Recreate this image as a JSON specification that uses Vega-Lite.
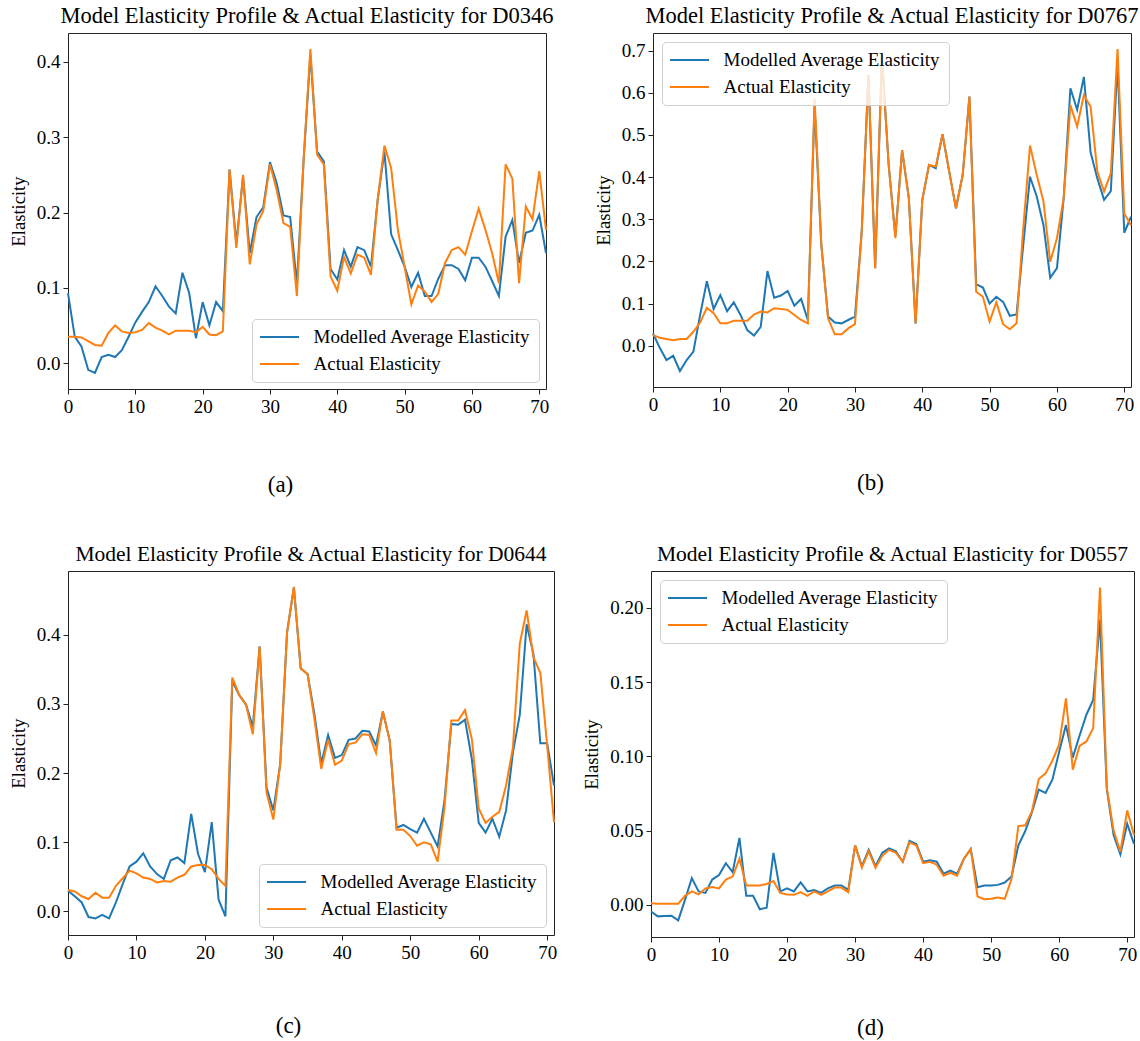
{
  "$schema": "https://vega.github.io/schema/vega-lite/v6.json",
  "padding": {"left": 8, "top": 4, "right": 4, "bottom": 4},
  "background": "white",
  "spacing": 46,
  "datasets": {
    "a": [
      {"t":0,"mod":0.093,"act":0.035},{"t":1,"mod":0.035,"act":0.035},{"t":2,"mod":0.022,"act":0.034},{"t":3,"mod":-0.009,"act":0.029},{"t":4,"mod":-0.013,"act":0.024},{"t":5,"mod":0.008,"act":0.023},{"t":6,"mod":0.011,"act":0.040},{"t":7,"mod":0.008,"act":0.050},{"t":8,"mod":0.017,"act":0.042},{"t":9,"mod":0.035,"act":0.040},
      {"t":10,"mod":0.054,"act":0.041},{"t":11,"mod":0.068,"act":0.044},{"t":12,"mod":0.081,"act":0.053},{"t":13,"mod":0.102,"act":0.047},{"t":14,"mod":0.089,"act":0.043},{"t":15,"mod":0.075,"act":0.038},{"t":16,"mod":0.066,"act":0.043},{"t":17,"mod":0.120,"act":0.043},{"t":18,"mod":0.093,"act":0.043},{"t":19,"mod":0.033,"act":0.041},
      {"t":20,"mod":0.081,"act":0.048},{"t":21,"mod":0.050,"act":0.038},{"t":22,"mod":0.081,"act":0.037},{"t":23,"mod":0.069,"act":0.042},{"t":24,"mod":0.257,"act":0.257},{"t":25,"mod":0.159,"act":0.153},{"t":26,"mod":0.248,"act":0.250},{"t":27,"mod":0.146,"act":0.131},{"t":28,"mod":0.194,"act":0.184},{"t":29,"mod":0.207,"act":0.202},
      {"t":30,"mod":0.267,"act":0.264},{"t":31,"mod":0.239,"act":0.230},{"t":32,"mod":0.196,"act":0.186},{"t":33,"mod":0.194,"act":0.181},{"t":34,"mod":0.105,"act":0.089},{"t":35,"mod":0.270,"act":0.270},{"t":36,"mod":0.410,"act":0.417},{"t":37,"mod":0.281,"act":0.277},{"t":38,"mod":0.268,"act":0.264},{"t":39,"mod":0.125,"act":0.115},
      {"t":40,"mod":0.111,"act":0.096},{"t":41,"mod":0.150,"act":0.141},{"t":42,"mod":0.128,"act":0.119},{"t":43,"mod":0.154,"act":0.144},{"t":44,"mod":0.150,"act":0.140},{"t":45,"mod":0.128,"act":0.117},{"t":46,"mod":0.217,"act":0.217},{"t":47,"mod":0.281,"act":0.289},{"t":48,"mod":0.171,"act":0.259},{"t":49,"mod":0.150,"act":0.177},
      {"t":50,"mod":0.128,"act":0.128},{"t":51,"mod":0.101,"act":0.078},{"t":52,"mod":0.120,"act":0.103},{"t":53,"mod":0.089,"act":0.095},{"t":54,"mod":0.089,"act":0.081},{"t":55,"mod":0.112,"act":0.092},{"t":56,"mod":0.130,"act":0.133},{"t":57,"mod":0.130,"act":0.150},{"t":58,"mod":0.125,"act":0.154},{"t":59,"mod":0.110,"act":0.144},
      {"t":60,"mod":0.140,"act":0.175},{"t":61,"mod":0.140,"act":0.205},{"t":62,"mod":0.128,"act":0.177},{"t":63,"mod":0.109,"act":0.146},{"t":64,"mod":0.089,"act":0.106},{"t":65,"mod":0.168,"act":0.264},{"t":66,"mod":0.190,"act":0.245},{"t":67,"mod":0.133,"act":0.106},{"t":68,"mod":0.173,"act":0.208},{"t":69,"mod":0.176,"act":0.191},
      {"t":70,"mod":0.197,"act":0.255},{"t":71,"mod":0.146,"act":0.177}
    ],
    "b": [
      {"t":0,"mod":0.029,"act":0.025},{"t":1,"mod":-0.005,"act":0.019},{"t":2,"mod":-0.034,"act":0.016},{"t":3,"mod":-0.024,"act":0.013},{"t":4,"mod":-0.060,"act":0.016},{"t":5,"mod":-0.034,"act":0.016},{"t":6,"mod":-0.014,"act":0.033},{"t":7,"mod":0.073,"act":0.055},{"t":8,"mod":0.153,"act":0.090},{"t":9,"mod":0.087,"act":0.077},
      {"t":10,"mod":0.120,"act":0.053},{"t":11,"mod":0.082,"act":0.053},{"t":12,"mod":0.103,"act":0.059},{"t":13,"mod":0.073,"act":0.059},{"t":14,"mod":0.037,"act":0.059},{"t":15,"mod":0.024,"act":0.074},{"t":16,"mod":0.045,"act":0.081},{"t":17,"mod":0.177,"act":0.079},{"t":18,"mod":0.114,"act":0.089},{"t":19,"mod":0.119,"act":0.087},
      {"t":20,"mod":0.130,"act":0.085},{"t":21,"mod":0.095,"act":0.073},{"t":22,"mod":0.111,"act":0.061},{"t":23,"mod":0.061,"act":0.053},{"t":24,"mod":0.570,"act":0.587},{"t":25,"mod":0.240,"act":0.240},{"t":26,"mod":0.069,"act":0.065},{"t":27,"mod":0.055,"act":0.027},{"t":28,"mod":0.053,"act":0.027},{"t":29,"mod":0.061,"act":0.041},
      {"t":30,"mod":0.069,"act":0.051},{"t":31,"mod":0.270,"act":0.270},{"t":32,"mod":0.642,"act":0.642},{"t":33,"mod":0.184,"act":0.184},{"t":34,"mod":0.685,"act":0.690},{"t":35,"mod":0.430,"act":0.430},{"t":36,"mod":0.260,"act":0.255},{"t":37,"mod":0.464,"act":0.464},{"t":38,"mod":0.350,"act":0.350},{"t":39,"mod":0.053,"act":0.053},
      {"t":40,"mod":0.346,"act":0.346},{"t":41,"mod":0.429,"act":0.429},{"t":42,"mod":0.421,"act":0.425},{"t":43,"mod":0.502,"act":0.502},{"t":44,"mod":0.413,"act":0.413},{"t":45,"mod":0.326,"act":0.326},{"t":46,"mod":0.405,"act":0.405},{"t":47,"mod":0.591,"act":0.591},{"t":48,"mod":0.146,"act":0.128},{"t":49,"mod":0.138,"act":0.116},
      {"t":50,"mod":0.100,"act":0.057},{"t":51,"mod":0.116,"act":0.103},{"t":52,"mod":0.104,"act":0.051},{"t":53,"mod":0.071,"act":0.039},{"t":54,"mod":0.074,"act":0.053},{"t":55,"mod":0.240,"act":0.280},{"t":56,"mod":0.401,"act":0.475},{"t":57,"mod":0.354,"act":0.405},{"t":58,"mod":0.286,"act":0.342},{"t":59,"mod":0.161,"act":0.199},
      {"t":60,"mod":0.184,"act":0.255},{"t":61,"mod":0.350,"act":0.350},{"t":62,"mod":0.611,"act":0.571},{"t":63,"mod":0.560,"act":0.520},{"t":64,"mod":0.638,"act":0.595},{"t":65,"mod":0.459,"act":0.567},{"t":66,"mod":0.397,"act":0.413},{"t":67,"mod":0.346,"act":0.366},{"t":68,"mod":0.367,"act":0.409},{"t":69,"mod":0.670,"act":0.704},
      {"t":70,"mod":0.268,"act":0.314},{"t":71,"mod":0.306,"act":0.286}
    ],
    "c": [
      {"t":0,"mod":0.030,"act":0.031},{"t":1,"mod":0.022,"act":0.029},{"t":2,"mod":0.013,"act":0.022},{"t":3,"mod":-0.008,"act":0.018},{"t":4,"mod":-0.010,"act":0.027},{"t":5,"mod":-0.005,"act":0.020},{"t":6,"mod":-0.010,"act":0.020},{"t":7,"mod":0.013,"act":0.037},{"t":8,"mod":0.040,"act":0.048},{"t":9,"mod":0.065,"act":0.059},
      {"t":10,"mod":0.072,"act":0.055},{"t":11,"mod":0.084,"act":0.049},{"t":12,"mod":0.065,"act":0.047},{"t":13,"mod":0.054,"act":0.042},{"t":14,"mod":0.047,"act":0.044},{"t":15,"mod":0.074,"act":0.043},{"t":16,"mod":0.078,"act":0.049},{"t":17,"mod":0.070,"act":0.053},{"t":18,"mod":0.141,"act":0.065},{"t":19,"mod":0.083,"act":0.067},
      {"t":20,"mod":0.057,"act":0.067},{"t":21,"mod":0.129,"act":0.061},{"t":22,"mod":0.017,"act":0.047},{"t":23,"mod":-0.007,"act":0.037},{"t":24,"mod":0.333,"act":0.338},{"t":25,"mod":0.313,"act":0.313},{"t":26,"mod":0.299,"act":0.299},{"t":27,"mod":0.267,"act":0.256},{"t":28,"mod":0.383,"act":0.383},{"t":29,"mod":0.179,"act":0.172},
      {"t":30,"mod":0.146,"act":0.133},{"t":31,"mod":0.213,"act":0.213},{"t":32,"mod":0.403,"act":0.403},{"t":33,"mod":0.468,"act":0.469},{"t":34,"mod":0.351,"act":0.351},{"t":35,"mod":0.343,"act":0.343},{"t":36,"mod":0.285,"act":0.278},{"t":37,"mod":0.214,"act":0.206},{"t":38,"mod":0.255,"act":0.248},{"t":39,"mod":0.222,"act":0.212},
      {"t":40,"mod":0.226,"act":0.218},{"t":41,"mod":0.248,"act":0.242},{"t":42,"mod":0.250,"act":0.244},{"t":43,"mod":0.261,"act":0.256},{"t":44,"mod":0.260,"act":0.255},{"t":45,"mod":0.240,"act":0.229},{"t":46,"mod":0.289,"act":0.289},{"t":47,"mod":0.247,"act":0.247},{"t":48,"mod":0.121,"act":0.118},{"t":49,"mod":0.125,"act":0.118},
      {"t":50,"mod":0.119,"act":0.109},{"t":51,"mod":0.114,"act":0.095},{"t":52,"mod":0.134,"act":0.100},{"t":53,"mod":0.114,"act":0.097},{"t":54,"mod":0.094,"act":0.072},{"t":55,"mod":0.160,"act":0.150},{"t":56,"mod":0.271,"act":0.276},{"t":57,"mod":0.270,"act":0.276},{"t":58,"mod":0.277,"act":0.291},{"t":59,"mod":0.220,"act":0.249},
      {"t":60,"mod":0.128,"act":0.149},{"t":61,"mod":0.114,"act":0.128},{"t":62,"mod":0.134,"act":0.137},{"t":63,"mod":0.108,"act":0.144},{"t":64,"mod":0.146,"act":0.182},{"t":65,"mod":0.230,"act":0.237},{"t":66,"mod":0.284,"act":0.387},{"t":67,"mod":0.415,"act":0.435},{"t":68,"mod":0.372,"act":0.367},{"t":69,"mod":0.243,"act":0.345},
      {"t":70,"mod":0.243,"act":0.240},{"t":71,"mod":0.182,"act":0.129}
    ],
    "d": [
      {"t":0,"mod":-0.0045,"act":0.001},{"t":1,"mod":-0.0078,"act":0.0007},{"t":2,"mod":-0.0076,"act":0.0007},{"t":3,"mod":-0.0074,"act":0.0007},{"t":4,"mod":-0.0105,"act":0.0007},{"t":5,"mod":0.0033,"act":0.006},{"t":6,"mod":0.018,"act":0.009},{"t":7,"mod":0.009,"act":0.007},{"t":8,"mod":0.008,"act":0.011},{"t":9,"mod":0.017,"act":0.012},
      {"t":10,"mod":0.020,"act":0.011},{"t":11,"mod":0.028,"act":0.017},{"t":12,"mod":0.022,"act":0.019},{"t":13,"mod":0.045,"act":0.031},{"t":14,"mod":0.006,"act":0.013},{"t":15,"mod":0.006,"act":0.013},{"t":16,"mod":-0.003,"act":0.013},{"t":17,"mod":-0.002,"act":0.014},{"t":18,"mod":0.035,"act":0.016},{"t":19,"mod":0.009,"act":0.008},
      {"t":20,"mod":0.011,"act":0.007},{"t":21,"mod":0.009,"act":0.0067},{"t":22,"mod":0.015,"act":0.0085},{"t":23,"mod":0.009,"act":0.006},{"t":24,"mod":0.010,"act":0.009},{"t":25,"mod":0.008,"act":0.0067},{"t":26,"mod":0.011,"act":0.009},{"t":27,"mod":0.013,"act":0.0116},{"t":28,"mod":0.013,"act":0.0116},{"t":29,"mod":0.010,"act":0.0085},
      {"t":30,"mod":0.040,"act":0.040},{"t":31,"mod":0.026,"act":0.025},{"t":32,"mod":0.037,"act":0.036},{"t":33,"mod":0.026,"act":0.025},{"t":34,"mod":0.035,"act":0.033},{"t":35,"mod":0.038,"act":0.037},{"t":36,"mod":0.036,"act":0.035},{"t":37,"mod":0.029,"act":0.029},{"t":38,"mod":0.043,"act":0.042},{"t":39,"mod":0.041,"act":0.040},
      {"t":40,"mod":0.029,"act":0.028},{"t":41,"mod":0.030,"act":0.029},{"t":42,"mod":0.029,"act":0.027},{"t":43,"mod":0.021,"act":0.0196},{"t":44,"mod":0.023,"act":0.0216},{"t":45,"mod":0.021,"act":0.0196},{"t":46,"mod":0.031,"act":0.031},{"t":47,"mod":0.0375,"act":0.0375},{"t":48,"mod":0.0118,"act":0.0056},{"t":49,"mod":0.013,"act":0.0038},
      {"t":50,"mod":0.013,"act":0.004},{"t":51,"mod":0.0134,"act":0.0049},{"t":52,"mod":0.015,"act":0.004},{"t":53,"mod":0.019,"act":0.0174},{"t":54,"mod":0.040,"act":0.053},{"t":55,"mod":0.0495,"act":0.0535},{"t":56,"mod":0.0624,"act":0.063},{"t":57,"mod":0.0776,"act":0.0847},{"t":58,"mod":0.0754,"act":0.0885},{"t":59,"mod":0.0843,"act":0.097},
      {"t":60,"mod":0.103,"act":0.108},{"t":61,"mod":0.121,"act":0.139},{"t":62,"mod":0.099,"act":0.091},{"t":63,"mod":0.114,"act":0.107},{"t":64,"mod":0.128,"act":0.110},{"t":65,"mod":0.138,"act":0.119},{"t":66,"mod":0.192,"act":0.2136},{"t":67,"mod":0.078,"act":0.079},{"t":68,"mod":0.047,"act":0.050},{"t":69,"mod":0.034,"act":0.0357},
      {"t":70,"mod":0.0546,"act":0.0635},{"t":71,"mod":0.041,"act":0.047}
    ]
  },
  "resolve": {"scale": {"x": "independent", "y": "independent", "color": "independent"}, "legend": {"color": "independent"}, "axis": {"x": "independent", "y": "independent"}},
  "vconcat": [
    {
      "spacing": 38,
      "resolve": {"scale": {"x": "independent", "y": "independent", "color": "independent"}, "legend": {"color": "independent"}, "axis": {"x": "independent", "y": "independent"}},
      "hconcat": [
        {
          "title": "Model Elasticity Profile & Actual Elasticity for D0346",
          "width": 478, "height": 356,
          "data": {"name": "a"},
          "layer": [
            {"mark": {"type": "line", "strokeWidth": 2},
             "encoding": {
               "x": {"field": "t", "type": "quantitative", "scale": {"domain": [0, 71], "nice": false, "zero": false}, "axis": {"values": [0,10,20,30,40,50,60,70], "title": "(a)", "titleX": 212, "titleY": 95}},
               "y": {"field": "mod", "type": "quantitative", "title": "Elasticity", "scale": {"domain": [-0.0345, 0.4385], "nice": false, "zero": false}, "axis": {"values": [0, 0.1, 0.2, 0.3, 0.4], "format": ".1f"}},
               "color": {"datum": "Modelled Average Elasticity", "type": "nominal", "scale": {"domain": ["Modelled Average Elasticity", "Actual Elasticity"], "range": ["#1f77b4", "#ff7f0e"]}, "legend": {"orient": "bottom-right", "offset": 7}}
             }},
            {"mark": {"type": "line", "strokeWidth": 2},
             "encoding": {
               "x": {"field": "t", "type": "quantitative"},
               "y": {"field": "act", "type": "quantitative", "title": "Elasticity"},
               "color": {"datum": "Actual Elasticity", "type": "nominal"}
             }}
          ]
        },
        {
          "title": "Model Elasticity Profile & Actual Elasticity for D0767",
          "width": 478, "height": 354,
          "data": {"name": "b"},
          "layer": [
            {"mark": {"type": "line", "strokeWidth": 2},
             "encoding": {
               "x": {"field": "t", "type": "quantitative", "scale": {"domain": [0, 71], "nice": false, "zero": false}, "axis": {"values": [0,10,20,30,40,50,60,70], "title": "(b)", "titleX": 217, "titleY": 95}},
               "y": {"field": "mod", "type": "quantitative", "title": "Elasticity", "scale": {"domain": [-0.098, 0.742], "nice": false, "zero": false}, "axis": {"values": [0, 0.1, 0.2, 0.3, 0.4, 0.5, 0.6, 0.7], "format": ".1f"}},
               "color": {"datum": "Modelled Average Elasticity", "type": "nominal", "scale": {"domain": ["Modelled Average Elasticity", "Actual Elasticity"], "range": ["#1f77b4", "#ff7f0e"]}, "legend": {"orient": "top-left", "offset": 9}}
             }},
            {"mark": {"type": "line", "strokeWidth": 2},
             "encoding": {
               "x": {"field": "t", "type": "quantitative"},
               "y": {"field": "act", "type": "quantitative", "title": "Elasticity"},
               "color": {"datum": "Actual Elasticity", "type": "nominal"}
             }}
          ]
        }
      ]
    },
    {
      "spacing": 23,
      "resolve": {"scale": {"x": "independent", "y": "independent", "color": "independent"}, "legend": {"color": "independent"}, "axis": {"x": "independent", "y": "independent"}},
      "hconcat": [
        {
          "title": {"text": "Model Elasticity Profile & Actual Elasticity for D0644", "fontSize": 21.5},
          "width": 486, "height": 364,
          "data": {"name": "c"},
          "layer": [
            {"mark": {"type": "line", "strokeWidth": 2},
             "encoding": {
               "x": {"field": "t", "type": "quantitative", "scale": {"domain": [0, 71], "nice": false, "zero": false}, "axis": {"values": [0,10,20,30,40,50,60,70], "title": "(c)", "titleX": 220, "titleY": 90}},
               "y": {"field": "mod", "type": "quantitative", "title": "Elasticity", "scale": {"domain": [-0.034, 0.492], "nice": false, "zero": false}, "axis": {"values": [0, 0.1, 0.2, 0.3, 0.4], "format": ".1f"}},
               "color": {"datum": "Modelled Average Elasticity", "type": "nominal", "scale": {"domain": ["Modelled Average Elasticity", "Actual Elasticity"], "range": ["#1f77b4", "#ff7f0e"]}, "legend": {"orient": "bottom-right", "offset": 8}}
             }},
            {"mark": {"type": "line", "strokeWidth": 2},
             "encoding": {
               "x": {"field": "t", "type": "quantitative"},
               "y": {"field": "act", "type": "quantitative", "title": "Elasticity"},
               "color": {"datum": "Actual Elasticity", "type": "nominal"}
             }}
          ]
        },
        {
          "title": {"text": "Model Elasticity Profile & Actual Elasticity for D0557", "fontSize": 21.5},
          "width": 483, "height": 366,
          "data": {"name": "d"},
          "layer": [
            {"mark": {"type": "line", "strokeWidth": 2},
             "encoding": {
               "x": {"field": "t", "type": "quantitative", "scale": {"domain": [0, 71], "nice": false, "zero": false}, "axis": {"values": [0,10,20,30,40,50,60,70], "title": "(d)", "titleX": 219, "titleY": 90}},
               "y": {"field": "mod", "type": "quantitative", "title": "Elasticity", "scale": {"domain": [-0.0217, 0.2248], "nice": false, "zero": false}, "axis": {"values": [0, 0.05, 0.1, 0.15, 0.2], "format": ".2f"}},
               "color": {"datum": "Modelled Average Elasticity", "type": "nominal", "scale": {"domain": ["Modelled Average Elasticity", "Actual Elasticity"], "range": ["#1f77b4", "#ff7f0e"]}, "legend": {"orient": "top-left", "offset": 9}}
             }},
            {"mark": {"type": "line", "strokeWidth": 2},
             "encoding": {
               "x": {"field": "t", "type": "quantitative"},
               "y": {"field": "act", "type": "quantitative", "title": "Elasticity"},
               "color": {"datum": "Actual Elasticity", "type": "nominal"}
             }}
          ]
        }
      ]
    }
  ],
  "config": {
    "font": "Liberation Serif",
    "view": {"stroke": "#222222", "strokeWidth": 1},
    "title": {"font": "Liberation Serif", "fontSize": 22.5, "fontWeight": "normal", "color": "black", "offset": 6, "anchor": "middle", "frame": "group"},
    "axis": {"grid": false, "domain": false, "tickColor": "#222222", "tickSize": 5, "tickWidth": 1, "labelFont": "Liberation Serif", "labelFontSize": 19, "labelColor": "black", "labelPadding": 3, "labelFlush": false, "labelOverlap": false, "titleFont": "Liberation Serif", "titleFontWeight": "normal", "titleColor": "black"},
    "axisX": {"titleFontSize": 23, "titleBaseline": "middle"},
    "axisY": {"titleFontSize": 18.5, "titlePadding": 8},
    "legend": {"title": null, "labelFont": "Liberation Serif", "labelFontSize": 19, "labelColor": "black", "labelLimit": 400, "symbolType": "M-2.17,0H2.17", "symbolSize": 324, "symbolStrokeWidth": 2, "symbolOffset": 9.5, "labelOffset": 24, "rowPadding": 7, "padding": 8, "strokeColor": "#d0d0d0", "fillColor": "rgba(255,255,255,0.8)", "cornerRadius": 4, "direction": "vertical"}
  }
}
